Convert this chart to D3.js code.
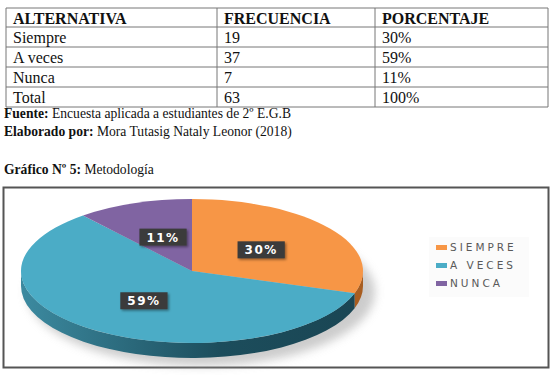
<!DOCTYPE html>
<html>
<head>
<meta charset="utf-8">
<script src="https://cdn.jsdelivr.net/npm/d3@7"></script>
<style>
  body { margin: 0; background: #fff; }
  svg { display: block; }
</style>
</head>
<body>
<div id="chart"></div>
<script>
// table data
let headers = ["ALTERNATIVA", "FRECUENCIA", "PORCENTAJE"];
let alternativas = ["Siempre", "A veces", "Nunca", "Total"];
let frecuencias = [19, 37, 7, 63];
let porcentajes = ["30%", "59%", "11%", "100%"];

// chart data
let categories = ["SIEMPRE", "A VECES", "NUNCA"];
let values = [30, 59, 11];
let colors = ["#f79646", "#4bacc6", "#8064a2"];

let svgWidth = 554;
let svgHeight = 375;

let svg = d3.select("#chart")
    .append("svg")
    .attr("width", svgWidth)
    .attr("height", svgHeight);

let defs = svg.append("defs");

// ---- table ----
let colX = [6, 217, 375, 548];
let rowY = [8, 27, 47, 67, 87, 107];

let table = svg.append("g");

rowY.forEach(function (y) {
    table.append("line")
        .attr("x1", colX[0]).attr("x2", colX[3])
        .attr("y1", y).attr("y2", y)
        .attr("stroke", "#777").attr("stroke-width", 1);
});
colX.forEach(function (x) {
    table.append("line")
        .attr("x1", x).attr("x2", x)
        .attr("y1", rowY[0]).attr("y2", rowY[5])
        .attr("stroke", "#777").attr("stroke-width", 1);
});

let rows = [headers].concat(alternativas.map((a, i) => [a, frecuencias[i], porcentajes[i]]));

rows.forEach(function (r, i) {
    r.forEach(function (cell, j) {
        table.append("text")
            .attr("x", colX[j] + 7)
            .attr("y", rowY[i] + 15.5)
            .attr("font-family", "'Liberation Serif', 'Times New Roman', serif")
            .attr("font-size", "16px")
            .attr("font-weight", i == 0 ? "bold" : "normal")
            .attr("fill", "#111")
            .text(cell);
    });
});

// notes
let notes = [
    ["Fuente: ", "Encuesta aplicada a estudiantes de 2º E.G.B", 118],
    ["Elaborado por: ", "Mora Tutasig Nataly Leonor (2018)", 136],
    ["Gráfico Nº 5: ", "Metodología", 174]
];
notes.forEach(function (n) {
    let t = svg.append("text")
        .attr("x", 4)
        .attr("y", n[2])
        .attr("font-family", "'Liberation Serif', 'Times New Roman', serif")
        .attr("font-size", "13.6px")
        .attr("fill", "#111");
    t.append("tspan").attr("font-weight", "bold").text(n[0]);
    t.append("tspan").text(n[1]);
});

// ---- chart frame ----
svg.append("rect")
    .attr("x", 3.5).attr("y", 187.5)
    .attr("width", 545).attr("height", 180)
    .attr("fill", "#fff")
    .attr("stroke", "#555")
    .attr("stroke-width", 2);

// ---- 3D pie ----
let cx = 192, cy = 271, rx = 171, ry = 72, depth = 15;

let pie = d3.pie().sort(null).value(d => d);
let slices = pie(values);

let blur = defs.append("filter").attr("id", "blur")
    .attr("x", "-20%").attr("y", "-20%").attr("width", "140%").attr("height", "140%");
blur.append("feGaussianBlur").attr("stdDeviation", 5);

svg.append("ellipse")
    .attr("cx", cx + 9).attr("cy", cy + depth + 6)
    .attr("rx", rx + 3).attr("ry", ry + 2)
    .attr("fill", "#aaa")
    .attr("opacity", 0.6)
    .attr("filter", "url(#blur)");

function pt(a, dy) {
    return [cx + rx * Math.sin(a), cy - ry * Math.cos(a) + (dy || 0)];
}

let sideColors = [["#c06f2c", "#a85d20"], ["#3c8aa0", "#1c4d5c"], ["#5e4580", "#4b3468"]];

let grad = defs.append("linearGradient")
    .attr("id", "side1")
    .attr("x1", "0%").attr("x2", "100%")
    .attr("y1", "0%").attr("y2", "0%");
grad.append("stop").attr("offset", "0%").attr("stop-color", sideColors[1][0]);
grad.append("stop").attr("offset", "60%").attr("stop-color", sideColors[1][1]);
grad.append("stop").attr("offset", "100%").attr("stop-color", "#1a4654");

let sides = svg.append("g");
slices.forEach(function (d, i) {
    let s = Math.max(d.startAngle, Math.PI / 2);
    let e = Math.min(d.endAngle, 3 * Math.PI / 2);
    if (s >= e) return;
    let p0 = pt(s), p1 = pt(e), p2 = pt(e, depth), p3 = pt(s, depth);
    let path = `M${p0} A${rx},${ry} 0 0 1 ${p1} L${p2} A${rx},${ry} 0 0 0 ${p3} Z`;
    sides.append("path")
        .attr("d", path)
        .attr("fill", i == 1 ? "url(#side1)" : sideColors[i][1]);
});

let arc = d3.arc().innerRadius(0).outerRadius(rx);

let topFace = svg.append("g")
    .attr("transform", `translate(${cx}, ${cy}) scale(1, ${ry / rx})`);

topFace.selectAll("path")
    .data(slices)
    .enter()
    .append("path")
    .attr("d", arc)
    .attr("fill", (d, i) => colors[i]);

// labels
let shadow = defs.append("filter").attr("id", "shadow")
    .attr("x", "-30%").attr("y", "-40%").attr("width", "160%").attr("height", "180%");
shadow.append("feDropShadow")
    .attr("dx", 1.5).attr("dy", 1.5).attr("stdDeviation", 1.2)
    .attr("flood-color", "#000").attr("flood-opacity", 0.4);

slices.forEach(function (d, i) {
    let c = arc.centroid(d);
    let x = cx + c[0];
    let y = cy + c[1] * ry / rx;
    let g = svg.append("g");
    let box = g.append("rect")
        .attr("fill", "#3a3a3a")
        .attr("filter", "url(#shadow)");
    let t = g.append("text")
        .attr("x", x)
        .attr("y", y + 4.5)
        .attr("text-anchor", "middle")
        .attr("font-family", "'DejaVu Sans', sans-serif")
        .attr("font-weight", "bold")
        .attr("font-size", "12px")
        .attr("letter-spacing", "1.5px")
        .attr("fill", "#fff")
        .text(d.data + "%");
    let w = t.node().getComputedTextLength() + 14;
    box.attr("x", x - w / 2).attr("y", y - 8.5)
        .attr("width", w).attr("height", 17);
});

// legend
let legend = svg.append("g");
legend.append("rect")
    .attr("x", 429).attr("y", 237)
    .attr("width", 100).attr("height", 60)
    .attr("fill", "#fbfbfb");

categories.forEach(function (c, i) {
    let y = 247 + i * 18;
    legend.append("rect")
        .attr("x", 436).attr("y", y - 2)
        .attr("width", 11).attr("height", 5)
        .attr("fill", colors[i]);
    legend.append("text")
        .attr("x", 450)
        .attr("y", y + 4)
        .attr("font-family", "'DejaVu Sans', sans-serif")
        .attr("font-size", "10.5px")
        .attr("letter-spacing", "3px")
        .attr("fill", "#595959")
        .text(c);
});
</script>
</body>
</html>
